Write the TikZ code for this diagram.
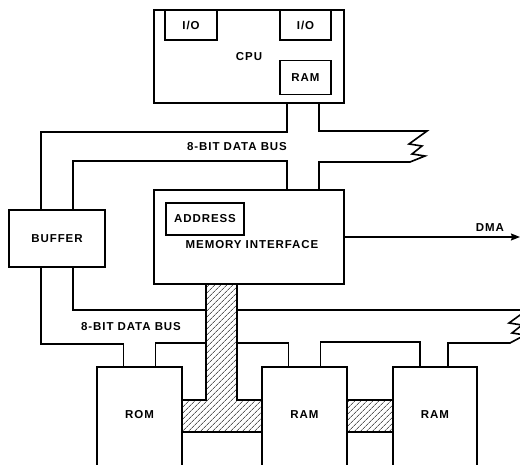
\documentclass[tikz,border=0pt]{standalone}
\usepackage{fontspec}
\newfontfamily\busfont[LetterSpace=8]{Liberation Sans}
\usetikzlibrary{positioning,patterns.meta,arrows.meta}

\newcommand{\lblfont}{\busfont\bfseries\fontsize{11.5}{13}\selectfont}

\tikzset{
  blk/.style={draw, line width=1.6pt, inner sep=0pt, font=\lblfont},
  lbl/.style={font=\lblfont, inner sep=1pt},
  bus/.style={line width=1.6pt, line join=miter},
  hatch/.style={draw, line width=1.6pt, pattern={Lines[angle=45,distance=4pt,line width=0.6pt]}},
}

\begin{document}
\begin{tikzpicture}[x=1pt, y=-1pt]
\useasboundingbox (0,0) rectangle (520,465);
\clip (0,0) rectangle (520,465);

% cpu
\node[blk, minimum width=190pt, minimum height=93pt] (cpu) at (249,56.5) {CPU};
\node[blk, minimum width=52pt, minimum height=30pt, anchor=north west] (iol) at ([xshift=11pt]cpu.north west) {I/O};
\node[blk, minimum width=51pt, minimum height=30pt, anchor=north east] (ior) at ([xshift=-13pt]cpu.north east) {I/O};
\node[blk, minimum width=51pt, minimum height=34pt, below=19pt of ior] (cpuram) {RAM};

% buffer and memory interface
\node[blk, minimum width=96pt, minimum height=57pt] (buffer) at (57,238.5) {BUFFER};
\node[blk, minimum width=190pt, minimum height=94pt] (mi) at (249,237) {};
\node[blk, minimum width=78pt, minimum height=32pt, anchor=north west] (addr) at ([xshift=12pt,yshift=-13pt]mi.north west) {ADDRESS};
\node[lbl] (mitext) at ([xshift=3pt,yshift=-8pt]mi.center) {MEMORY INTERFACE};

% memories
\node[blk, minimum width=85pt, minimum height=133pt] (rom) at (139.5,433.5) {};
\node[blk, minimum width=85pt, minimum height=133pt] (ram1) at (304.5,433.5) {};
\node[blk, minimum width=84pt, minimum height=133pt] (ram2) at (435,433.5) {};
\node[lbl] (romtext) at ([yshift=-48pt]rom.north) {ROM};
\node[lbl] (ram1text) at ([yshift=-48pt]ram1.north) {RAM};
\node[lbl] (ram2text) at ([yshift=-48pt]ram2.north) {RAM};

% address bus (hatched)
\draw[hatch] (206,284) -- (206,400) -- (182,400) -- (182,432) -- (262,432) -- (262,400) -- (237,400) -- (237,284);
\draw[hatch] (347,400) rectangle (393,432);

% upper data bus
\draw[bus] ([xshift=38pt]cpu.south) -- ++(0,28) -| ([xshift=-16pt]buffer.north);
\draw[bus] ([xshift=16pt]buffer.north) -- ++(0,-48) -| ([xshift=38pt]mi.north);
\draw[bus] ([xshift=70pt]cpu.south) |- (427,131) -- ++(-18,13) -- ++(13,2) -- ++(-10,8) -- ++(13,2) -- ++(-15,6) -| ([xshift=70pt]mi.north);
\node[lbl] (ubus) at (237,147) {8-BIT DATA BUS};

% lower data bus
\draw[bus] ([xshift=-16pt]buffer.south) -- ++(0,76) -| ([xshift=-16pt]rom.north);
\draw[bus] ([xshift=16pt]buffer.south) |- (206,310);
\draw[bus] ([xshift=16pt]rom.north) |- (206,343);
\draw[bus] (237,343) -| ([xshift=-16pt]ram1.north);
\draw[bus] ([xshift=16pt]ram1.north) -- ++(0,-24) -| ([xshift=-15pt]ram2.north);
\draw[bus] ([xshift=13pt]ram2.north) |- (510,343) -- ++(15,-8) -- ++(-13,-2) -- ++(10,-8) -- ++(-13,-2) -- ++(18,-13) -- (237,310);
\node[lbl] (lbus) at (131,327) {8-BIT DATA BUS};

% dma
\coordinate (dmaend) at (520,237);
\draw[line width=1.3pt, -{Stealth[length=9pt,width=7pt,inset=1pt]}] (mi.east) -- (dmaend);
\node[lbl] (dma) at (490,228) {DMA};
\end{tikzpicture}
\end{document}
